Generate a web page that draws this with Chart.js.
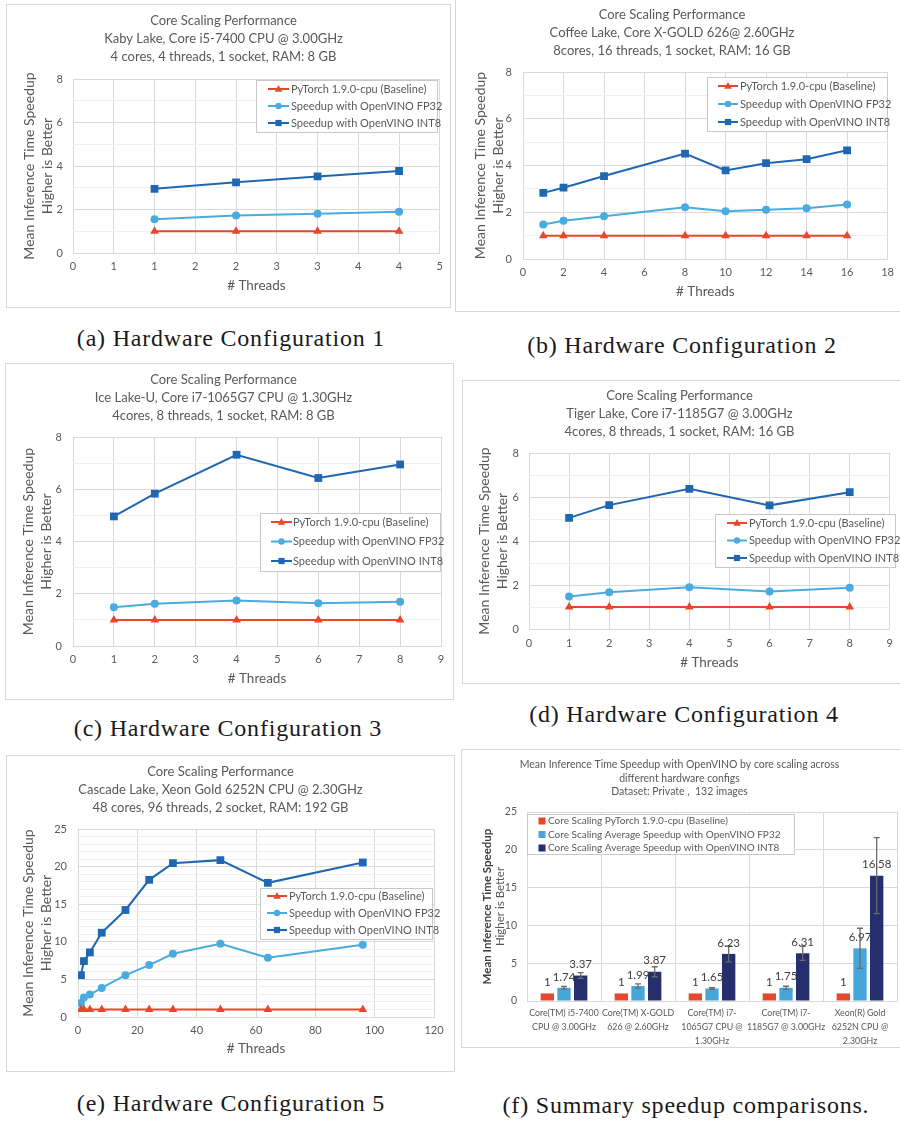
<!DOCTYPE html>
<html>
<head>
<meta charset="utf-8">
<script src="https://cdn.jsdelivr.net/npm/chart.js@4.4.1/dist/chart.umd.min.js"></script>
<style>
  body { margin: 0; background: #fff; width: 900px; height: 1121px; position: relative; overflow: hidden; }
  .panel { position: absolute; border: 1px solid #d9d9d9; box-sizing: border-box; background: #fff; }
  .panel canvas { display: block; }
  .cap { position: absolute; font-family: "Liberation Serif", serif; font-size: 24px; line-height: 24px;
         letter-spacing: 0.8px; color: #1a1a1a; white-space: nowrap; transform: translateX(-50%); }
</style>
</head>
<body>

<div class="panel" style="left:6px;top:4px;width:445px;height:304px"><canvas id="ca" width="443" height="302"></canvas></div>
<div class="panel" style="left:455px;top:-2px;width:447px;height:314px"><canvas id="cb" width="445" height="312"></canvas></div>
<div class="panel" style="left:5px;top:363px;width:449px;height:337px"><canvas id="cc" width="447" height="335"></canvas></div>
<div class="panel" style="left:462px;top:380px;width:440px;height:304px"><canvas id="cd" width="438" height="302"></canvas></div>
<div class="panel" style="left:6px;top:755px;width:449px;height:317px"><canvas id="ce" width="447" height="315"></canvas></div>
<div class="panel" style="left:461px;top:749px;width:441px;height:299px"><canvas id="cf" width="439" height="297"></canvas></div>

<div class="cap" style="left:231px;top:326px">(a) Hardware Configuration 1</div>
<div class="cap" style="left:682px;top:333px">(b) Hardware Configuration 2</div>
<div class="cap" style="left:228px;top:716px">(c) Hardware Configuration 3</div>
<div class="cap" style="left:684px;top:702px">(d) Hardware Configuration 4</div>
<div class="cap" style="left:231px;top:1091px">(e) Hardware Configuration 5</div>
<div class="cap" style="left:686px;top:1093px">(f) Summary speedup comparisons.</div>

<script>
// ---- data ----
const seriesNames = ['PyTorch 1.9.0-cpu (Baseline)', 'Speedup with OpenVINO FP32', 'Speedup with OpenVINO INT8'];

const threadsA = [1, 2, 3, 4];
const baselineA = [1, 1, 1, 1];
const fp32A = [1.55, 1.72, 1.81, 1.90];
const int8A = [2.95, 3.25, 3.52, 3.77];

const threadsB = [1, 2, 4, 8, 10, 12, 14, 16];
const baselineB = [1, 1, 1, 1, 1, 1, 1, 1];
const fp32B = [1.48, 1.64, 1.83, 2.21, 2.04, 2.11, 2.17, 2.33];
const int8B = [2.83, 3.05, 3.55, 4.51, 3.79, 4.10, 4.27, 4.65];

const threadsC = [1, 2, 4, 6, 8];
const baselineC = [1, 1, 1, 1, 1];
const fp32C = [1.48, 1.62, 1.74, 1.64, 1.69];
const int8C = [4.96, 5.83, 7.32, 6.43, 6.95];

const threadsD = [1, 2, 4, 6, 8];
const baselineD = [1, 1, 1, 1, 1];
const fp32D = [1.48, 1.67, 1.90, 1.70, 1.87];
const int8D = [5.05, 5.63, 6.37, 5.62, 6.22];

const threadsE = [1, 2, 4, 8, 16, 24, 32, 48, 64, 96];
const baselineE = [1, 1, 1, 1, 1, 1, 1, 1, 1, 1];
const fp32E = [1.87, 2.58, 2.98, 3.87, 5.56, 6.90, 8.41, 9.74, 7.87, 9.61];
const int8E = [5.56, 7.43, 8.59, 11.21, 14.23, 18.24, 20.46, 20.86, 17.84, 20.55];

const summaryNames = ['Core Scaling PyTorch 1.9.0-cpu (Baseline)',
  'Core Scaling Average Speedup with OpenVINO FP32',
  'Core Scaling Average Speedup with OpenVINO INT8'];
const hwLabels = [
  ['Core(TM) i5-7400', 'CPU @ 3.00GHz'],
  ['Core(TM) X-GOLD', '626 @ 2.60GHz'],
  ['Core(TM) i7-', '1065G7 CPU @', '1.30GHz'],
  ['Core(TM) i7-', '1185G7 @ 3.00GHz'],
  ['Xeon(R) Gold', '6252N CPU @', '2.30GHz']
];
const baselineF = [1, 1, 1, 1, 1];
const fp32F = [1.74, 1.99, 1.65, 1.75, 6.97];
const int8F = [3.37, 3.87, 6.23, 6.31, 16.58];
const fp32ErrF = [0.18, 0.28, 0.10, 0.20, 2.65];
const int8ErrF = [0.38, 0.66, 1.05, 0.93, 5.03];

// ---- style ----
const TXT = '#595959';
const GRID = '#d9d9d9';
const MINOR = '#f0f0f0';
const RED = '#e9472c';
const LIGHT = '#4aabdf';
const BLUE = '#2067b3';
const NAVY = '#262f6e';

Chart.defaults.font.family = 'Lato, "Open Sans", sans-serif';
Chart.defaults.color = TXT;

function marker(ctx, style, r, x, y) {
  ctx.beginPath();
  if (style === 'triangle') {
    ctx.moveTo(x, y - r);
    ctx.lineTo(x + r * 0.95, y + r * 0.7);
    ctx.lineTo(x - r * 0.95, y + r * 0.7);
    ctx.closePath();
  } else if (style === 'rect') {
    const s = r * Math.SQRT1_2;
    ctx.rect(x - s, y - s, 2 * s, 2 * s);
  } else {
    ctx.arc(x, y, r, 0, Math.PI * 2);
  }
  ctx.fill();
}

// legend drawn inside the plot, like the Excel one
const boxLegend = {
  id: 'boxLegend',
  afterDraw(chart, args, o) {
    const ctx = chart.ctx;
    ctx.save();
    ctx.fillStyle = '#fff';
    ctx.fillRect(o.x, o.y, o.w, o.h);
    ctx.strokeStyle = '#c8c8c8';
    ctx.lineWidth = 1;
    ctx.strokeRect(o.x + 0.5, o.y + 0.5, o.w, o.h);
    ctx.font = o.size + 'px Lato';
    ctx.textBaseline = 'middle';
    chart.data.datasets.forEach((ds, i) => {
      const y = o.y + o.first + i * o.step;
      ctx.fillStyle = ds.backgroundColor;
      ctx.strokeStyle = ds.borderColor;
      if (o.bars) {
        ctx.fillRect(o.x + o.mark - 3.5, y - 3.5, 7, 7);
      } else {
        ctx.lineWidth = 2;
        ctx.beginPath();
        ctx.moveTo(o.x + o.x0, y);
        ctx.lineTo(o.x + o.x1, y);
        ctx.stroke();
        marker(ctx, ds.pointStyle, ds.pointRadius * 0.8, o.x + (o.x0 + o.x1) / 2, y);
      }
      ctx.fillStyle = TXT;
      ctx.fillText(ds.label, o.x + o.text, y);
    });
    ctx.restore();
  }
};

function pts(xs, ys) {
  return xs.map((x, i) => ({ x: x, y: ys[i] }));
}

function linePanel(id, o) {
  new Chart(document.getElementById(id), {
    type: 'line',
    data: {
      datasets: [
        { label: seriesNames[0], data: pts(o.threads, o.series[0]), borderColor: RED, backgroundColor: RED,
          pointStyle: 'triangle', pointRadius: 5 },
        { label: seriesNames[1], data: pts(o.threads, o.series[1]), borderColor: LIGHT, backgroundColor: LIGHT,
          pointStyle: 'circle', pointRadius: 4 },
        { label: seriesNames[2], data: pts(o.threads, o.series[2]), borderColor: BLUE, backgroundColor: BLUE,
          pointStyle: 'rect', pointRadius: 5.5 }
      ]
    },
    options: {
      responsive: false,
      animation: false,
      layout: { padding: { right: o.padRight } },
      elements: { line: { borderWidth: 2, tension: 0 }, point: { borderWidth: 0 } },
      plugins: {
        legend: { display: false },
        tooltip: { enabled: false },
        title: { display: true, text: o.title, color: TXT, font: { size: 13, weight: 'normal', lineHeight: '18px' },
                 padding: { top: o.titleTop, bottom: o.titleBottom } },
        boxLegend: o.legend
      },
      scales: {
        x: {
          type: 'linear', min: 0, max: o.xMax,
          afterFit: s => { s.height = o.xH; },
          ticks: { stepSize: o.xStep, autoSkip: false, maxRotation: 0, padding: o.xPad, font: { size: 11 },
                   callback: v => o.xRound ? Math.round(v) : v },
          grid: { color: GRID, drawTicks: false },
          border: { color: GRID },
          title: { display: true, text: '# Threads', color: TXT, font: { size: 13.5, lineHeight: '18px' },
                   padding: { top: 0, bottom: o.xTitlePad } }
        },
        y: {
          min: 0, max: o.yMax,
          afterFit: s => { s.width = o.yW; },
          ticks: { stepSize: 1, autoSkip: false, padding: o.yPad, font: { size: 11 },
                   callback: v => v % o.yMajor === 0 ? v : '' },
          grid: { color: c => (c.tick && c.tick.value % o.yMajor === 0) ? GRID : MINOR, drawTicks: false },
          border: { display: false },
          title: { display: true, text: ['Mean Inference Time Speedup', 'Higher is Better'], color: TXT,
                   font: { size: 14, lineHeight: '18px' }, padding: { top: o.yTitlePad, bottom: 0 } }
        }
      }
    },
    plugins: [boxLegend]
  });
}

linePanel('ca', {
  threads: threadsA, series: [baselineA, fp32A, int8A],
  title: ['Core Scaling Performance', 'Kaby Lake, Core i5-7400 CPU @ 3.00GHz', '4 cores, 4 threads, 1 socket, RAM: 8 GB'],
  xMax: 4.5, xStep: 0.5, xRound: true, yMax: 8, yMajor: 2,
  padRight: 10, titleTop: 7, titleBottom: 13, xH: 54, xPad: 7, xTitlePad: 12, yW: 66, yPad: 10, yTitlePad: 13,
  legend: { x: 249, y: 75, w: 181, h: 52, first: 9, step: 17, x0: 12, x1: 33, text: 35, size: 11 }
});

linePanel('cb', {
  threads: threadsB, series: [baselineB, fp32B, int8B],
  title: ['Core Scaling Performance', 'Coffee Lake, Core X-GOLD 626@ 2.60GHz', '8cores, 16 threads, 1 socket, RAM: 16 GB'],
  xMax: 18, xStep: 2, xRound: false, yMax: 8, yMajor: 2,
  padRight: 13, titleTop: 7, titleBottom: 12, xH: 52, xPad: 7, xTitlePad: 10, yW: 67, yPad: 11, yTitlePad: 15,
  legend: { x: 251, y: 78, w: 180, h: 54, first: 9, step: 18, x0: 11, x1: 31, text: 33, size: 11 }
});

linePanel('cc', {
  threads: threadsC, series: [baselineC, fp32C, int8C],
  title: ['Core Scaling Performance', 'Ice Lake-U, Core i7-1065G7 CPU @ 1.30GHz', '4cores, 8 threads, 1 socket, RAM: 8 GB'],
  xMax: 9, xStep: 1, xRound: false, yMax: 8, yMajor: 2,
  padRight: 12, titleTop: 7, titleBottom: 12, xH: 53, xPad: 7, xTitlePad: 11, yW: 67, yPad: 11, yTitlePad: 13,
  legend: { x: 254, y: 149, w: 180, h: 58, first: 9, step: 19.5, x0: 11, x1: 32, text: 33, size: 11 }
});

linePanel('cd', {
  threads: threadsD, series: [baselineD, fp32D, int8D],
  title: ['Core Scaling Performance', 'Tiger Lake, Core i7-1185G7 @ 3.00GHz', '4cores, 8 threads, 1 socket, RAM: 16 GB'],
  xMax: 9, xStep: 1, xRound: false, yMax: 8, yMajor: 2,
  padRight: 5, titleTop: 6, titleBottom: 12, xH: 54, xPad: 8, xTitlePad: 11, yW: 66, yPad: 10, yTitlePad: 12,
  legend: { x: 252, y: 133, w: 180, h: 53, first: 9, step: 17.5, x0: 12, x1: 32, text: 34, size: 11 }
});

linePanel('ce', {
  threads: threadsE, series: [baselineE, fp32E, int8E],
  title: ['Core Scaling Performance', 'Cascade Lake, Xeon Gold 6252N CPU @ 2.30GHz', '48 cores, 96 threads, 2 socket, RAM: 192 GB'],
  xMax: 120, xStep: 20, xRound: false, yMax: 25, yMajor: 5,
  padRight: 20, titleTop: 7, titleBottom: 12, xH: 54, xPad: 7, xTitlePad: 13, yW: 71, yPad: 11, yTitlePad: 12,
  legend: { x: 253, y: 132, w: 172, h: 51, first: 8, step: 17, x0: 7, x1: 27, text: 29, size: 11 }
});

// error bars, value labels and the plain second line of the y title
const summaryExtras = {
  id: 'summaryExtras',
  afterDatasetsDraw(chart) {
    const ctx = chart.ctx;
    const ys = chart.scales.y;
    ctx.save();
    chart.data.datasets.forEach((ds, di) => {
      const meta = chart.getDatasetMeta(di);
      meta.data.forEach((bar, i) => {
        const v = ds.data[i];
        if (ds.errors) {
          const e = ds.errors[i];
          const t = ys.getPixelForValue(v + e), b = ys.getPixelForValue(v - e);
          ctx.strokeStyle = '#6b6b6b';
          ctx.lineWidth = 1.3;
          ctx.beginPath();
          ctx.moveTo(bar.x, t); ctx.lineTo(bar.x, b);
          ctx.moveTo(bar.x - 3, t); ctx.lineTo(bar.x + 3, t);
          ctx.moveTo(bar.x - 3, b); ctx.lineTo(bar.x + 3, b);
          ctx.stroke();
        }
        ctx.fillStyle = '#404040';
        ctx.font = '11.5px Lato';
        ctx.textAlign = 'center';
        ctx.textBaseline = 'middle';
        ctx.fillText(String(v), bar.x, bar.y - 11);
      });
    });
    const a = chart.chartArea;
    ctx.translate(38, (a.top + a.bottom) / 2);
    ctx.rotate(-Math.PI / 2);
    ctx.fillStyle = TXT;
    ctx.font = '11.5px Lato';
    ctx.textAlign = 'center';
    ctx.textBaseline = 'middle';
    ctx.fillText('Higher is Better', 0, 0);
    ctx.restore();
  }
};

new Chart(document.getElementById('cf'), {
  type: 'bar',
  data: {
    labels: hwLabels,
    datasets: [
      { label: summaryNames[0], data: baselineF, backgroundColor: RED, borderColor: RED },
      { label: summaryNames[1], data: fp32F, errors: fp32ErrF, backgroundColor: '#47a6d9', borderColor: '#47a6d9' },
      { label: summaryNames[2], data: int8F, errors: int8ErrF, backgroundColor: NAVY, borderColor: NAVY }
    ]
  },
  options: {
    responsive: false,
    animation: false,
    layout: { padding: { right: 4 } },
    datasets: { bar: { categoryPercentage: 0.676, barPercentage: 0.8 } },
    plugins: {
      legend: { display: false },
      tooltip: { enabled: false },
      title: { display: true, color: TXT, font: { size: 10.5, weight: 'normal', lineHeight: '13.5px' },
               text: ['Mean Inference Time Speedup with OpenVINO by core scaling across', 'different hardware configs',
                      'Dataset: Private ,  132 images'],
               padding: { top: 8, bottom: 13.5 } },
      boxLegend: { x: 65, y: 64, w: 267, h: 40, first: 7, step: 13.5, mark: 15, text: 21, size: 10, bars: true }
    },
    scales: {
      x: {
        afterFit: s => { s.height = 46; },
        ticks: { autoSkip: false, maxRotation: 0, padding: 5, font: { size: 8.8, lineHeight: '14px' } },
        grid: { color: GRID, drawTicks: false, offset: true },
        border: { color: GRID }
      },
      y: {
        min: 0, max: 25,
        afterFit: s => { s.width = 65; },
        ticks: { stepSize: 5, padding: 10, font: { size: 10.5 } },
        grid: { color: GRID, drawTicks: false },
        border: { display: false },
        title: { display: true, text: 'Mean Inference Time Speedup', color: '#404040',
                 font: { size: 11.5, weight: 'bold', lineHeight: '14px' }, padding: { top: 18, bottom: 0 } }
      }
    }
  },
  plugins: [boxLegend, summaryExtras]
});
</script>
</body>
</html>
